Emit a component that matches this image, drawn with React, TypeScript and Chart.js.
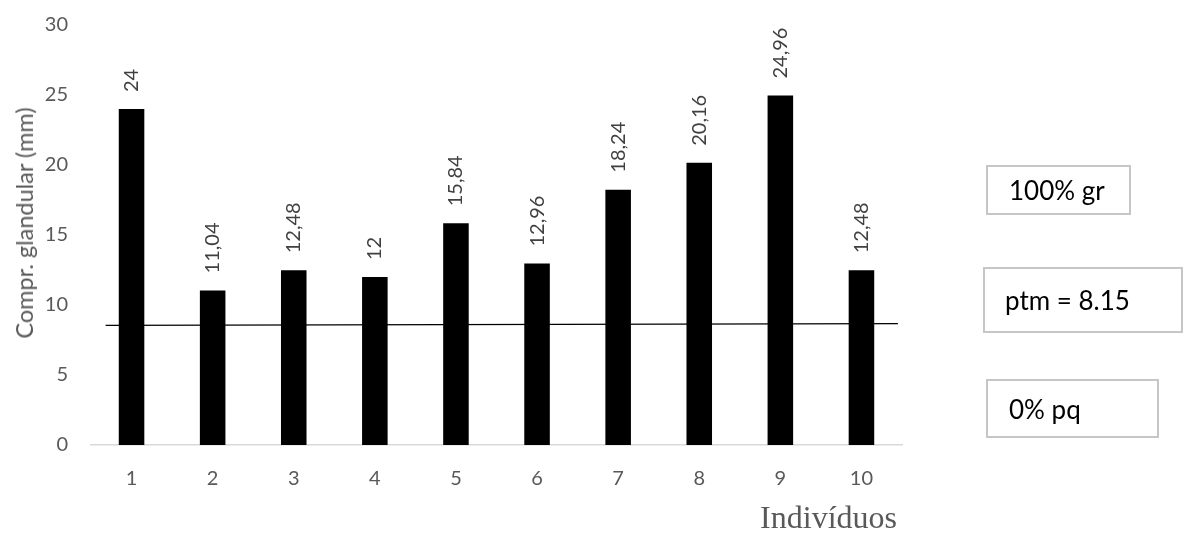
import React, { useEffect, useRef } from "react";
import { Chart, registerables } from "chart.js";

Chart.register(...registerables);

// Individuals on the x axis and their glandular length (mm)
const individuals = ["1", "2", "3", "4", "5", "6", "7", "8", "9", "10"];
const glandLength = [24, 11.04, 12.48, 12, 15.84, 12.96, 18.24, 20.16, 24.96, 12.48];

// Reference line (ptm) drawn across the plot, slightly tilted
const ptmLineX = [0.018, 0.995];
const ptmLineY = [8.55, 8.67];

// Axis settings
const yMin = 0;
const yMax = 30;
const yStep = 5;

// Side annotation boxes
const boxLabels = ["100% gr", "ptm = 8.15", "0% pq"];

const yTitle = "Compr. glandular (mm)";
const xTitle = "Indivíduos";

const formatValue = (v: number) => String(v).replace(".", ",");

const valueLabels = {
  id: "valueLabels",
  afterDatasetsDraw(chart: any) {
    const meta = chart.getDatasetMeta(0);
    const ctx = chart.ctx;
    ctx.save();
    ctx.font = "20px Lato";
    ctx.fillStyle = "#404040";
    ctx.textAlign = "left";
    ctx.textBaseline = "middle";
    meta.data.forEach((bar: any, i: number) => {
      ctx.save();
      ctx.translate(bar.x, bar.y - 17);
      ctx.rotate(-Math.PI / 2);
      ctx.fillText(formatValue(glandLength[i]), 0, 0);
      ctx.restore();
    });
    ctx.restore();
  },
};

const boxStyles: React.CSSProperties[] = [
  { left: 986, top: 165, width: 145, height: 50, paddingLeft: 21 },
  { left: 983, top: 267, width: 200, height: 66, paddingLeft: 20 },
  { left: 986, top: 379, width: 173, height: 59, paddingLeft: 21 },
];

export default function App() {
  const canvasRef = useRef<HTMLCanvasElement | null>(null);

  useEffect(() => {
    if (!canvasRef.current) return;
    const chart = new Chart(canvasRef.current, {
      type: "bar",
      data: {
        labels: individuals,
        datasets: [
          {
            type: "bar",
            data: glandLength,
            backgroundColor: "#000000",
            borderWidth: 0,
            grouped: false,
            categoryPercentage: 1,
            barPercentage: 0.315,
            order: 1,
          } as any,
          {
            type: "line",
            data: ptmLineX.map((x, i) => ({ x, y: ptmLineY[i] })),
            xAxisID: "xLine",
            borderColor: "#000000",
            borderWidth: 1.3,
            pointRadius: 0,
            fill: false,
            order: 2,
          } as any,
        ],
      },
      options: {
        animation: false,
        responsive: false,
        devicePixelRatio: 1,
        layout: { padding: { top: 25, right: 282, bottom: 0, left: 0 } },
        plugins: { legend: { display: false }, tooltip: { enabled: false } },
        scales: {
          x: {
            type: "category",
            offset: true,
            grid: { display: false, drawTicks: false },
            border: { display: true, color: "#d9d9d9", width: 1.5 },
            ticks: { color: "#595959", font: { family: "Lato", size: 20 }, padding: 22 },
            afterFit: (s: any) => {
              s.height = 99;
            },
          },
          xLine: {
            type: "linear",
            display: false,
            offset: false,
            grid: { offset: false },
            min: 0,
            max: 1,
          },
          y: {
            min: yMin,
            max: yMax,
            grid: { display: false, drawTicks: false },
            border: { display: false },
            ticks: {
              stepSize: yStep,
              color: "#595959",
              font: { family: "Lato", size: 20 },
              padding: 23,
            },
            afterFit: (s: any) => {
              s.width = 91;
              s.paddingTop = 0;
              s.paddingBottom = 0;
            },
          },
        },
      } as any,
      plugins: [valueLabels],
    });
    return () => chart.destroy();
  }, []);

  return (
    <div style={{ position: "absolute", left: 0, top: 0, width: 1184, height: 544, background: "#fff" }}>
      <canvas ref={canvasRef} width={1184} height={544} style={{ position: "absolute", left: 0, top: 0 }} />
      <div
        style={{
          position: "absolute",
          left: 24,
          top: 223,
          transform: "translate(-50%, -50%) rotate(-90deg)",
          whiteSpace: "nowrap",
          font: "23.5px Lato",
          color: "#595959",
        }}
      >
        {yTitle}
      </div>
      <div
        style={{
          position: "absolute",
          right: 1184 - 897,
          top: 499,
          whiteSpace: "nowrap",
          font: "32px 'Liberation Serif'",
          color: "#595959",
        }}
      >
        {xTitle}
      </div>
      {boxLabels.map((t, i) => (
        <div
          key={t}
          style={{
            position: "absolute",
            boxSizing: "border-box",
            border: "2px solid #c6c6c6",
            display: "flex",
            alignItems: "center",
            font: "26px Lato",
            color: "#000",
            whiteSpace: "nowrap",
            ...boxStyles[i],
          }}
        >
          {t}
        </div>
      ))}
    </div>
  );
}
